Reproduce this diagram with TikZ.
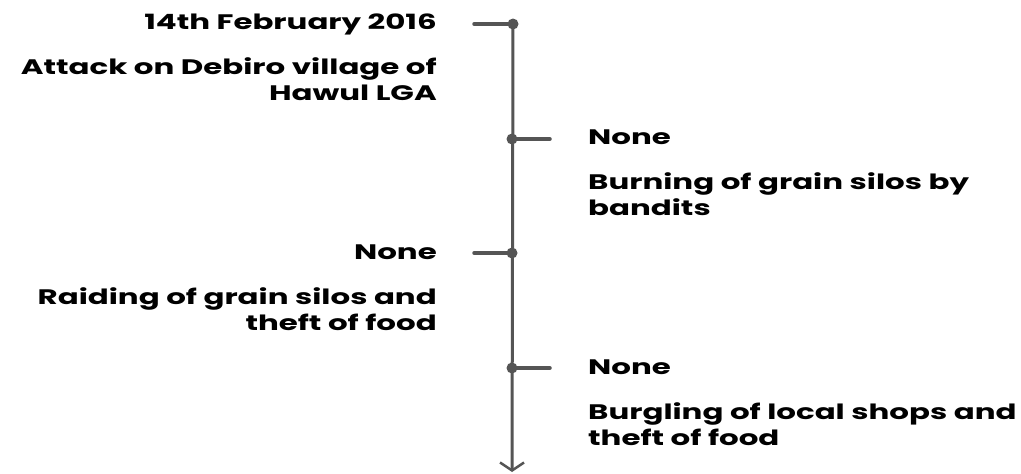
\documentclass[tikz,border=0pt]{standalone}
\usepackage{fontspec}
\setmainfont{Poppins}[FakeStretch=1.47]
\usepackage{tikz}
\usetikzlibrary{arrows.meta}
\definecolor{linegray}{HTML}{555555}

\begin{document}
\begin{tikzpicture}
  [x=1pt,y=-1pt,
   dot/.style={circle,fill=linegray,inner sep=0pt,minimum size=11pt},
   tick/.style={draw=linegray,line width=3.5pt,line cap=round},
   towards/.style={draw=linegray,line width=3pt,
     -{Straight Barb[length=8pt,width=24pt,line width=2.5pt]}},
   lbl/.style={font=\bfseries\fontsize{21}{25.5}\selectfont,inner sep=0pt},
   lside/.style={lbl,anchor=base east,align=right},
   rside/.style={lbl,anchor=base west,align=left},
  ]
  \useasboundingbox (0,0) rectangle (1021,474);

  \node[dot] (d1) at (513,24)  {};
  \node[dot] (d2) at (512,139) {};
  \node[dot] (d3) at (512,253) {};
  \node[dot] (d4) at (512,368) {};

  \coordinate (t1) at (474,24);
  \coordinate (t2) at (550,139);
  \coordinate (t3) at (474,253);
  \coordinate (t4) at (550,368);
  \coordinate (tip) at (512,472);

  \draw[towards] (d1.center) -- (tip);
  \path (d1.center) edge[tick] (t1)
        (d2.center) edge[tick] (t2)
        (d3.center) edge[tick] (t3)
        (d4.center) edge[tick] (t4);

  % multi-line labels sit on the baseline of their last line
  \node[lside] (when1) at (437,29)  {14th February 2016};
  \node[lside] (what1) at (437,100) {Attack on Debiro village of\\Hawul LGA};
  \node[rside] (when2) at (588,144) {None};
  \node[rside] (what2) at (588,215) {Burning of grain silos by\\bandits};
  \node[lside] (when3) at (437,259) {None};
  \node[lside] (what3) at (437,330) {Raiding of grain silos and\\theft of food};
  \node[rside] (when4) at (588,374) {None};
  \node[rside] (what4) at (588,445) {Burgling of local shops and\\theft of food};

\end{tikzpicture}
\end{document}
